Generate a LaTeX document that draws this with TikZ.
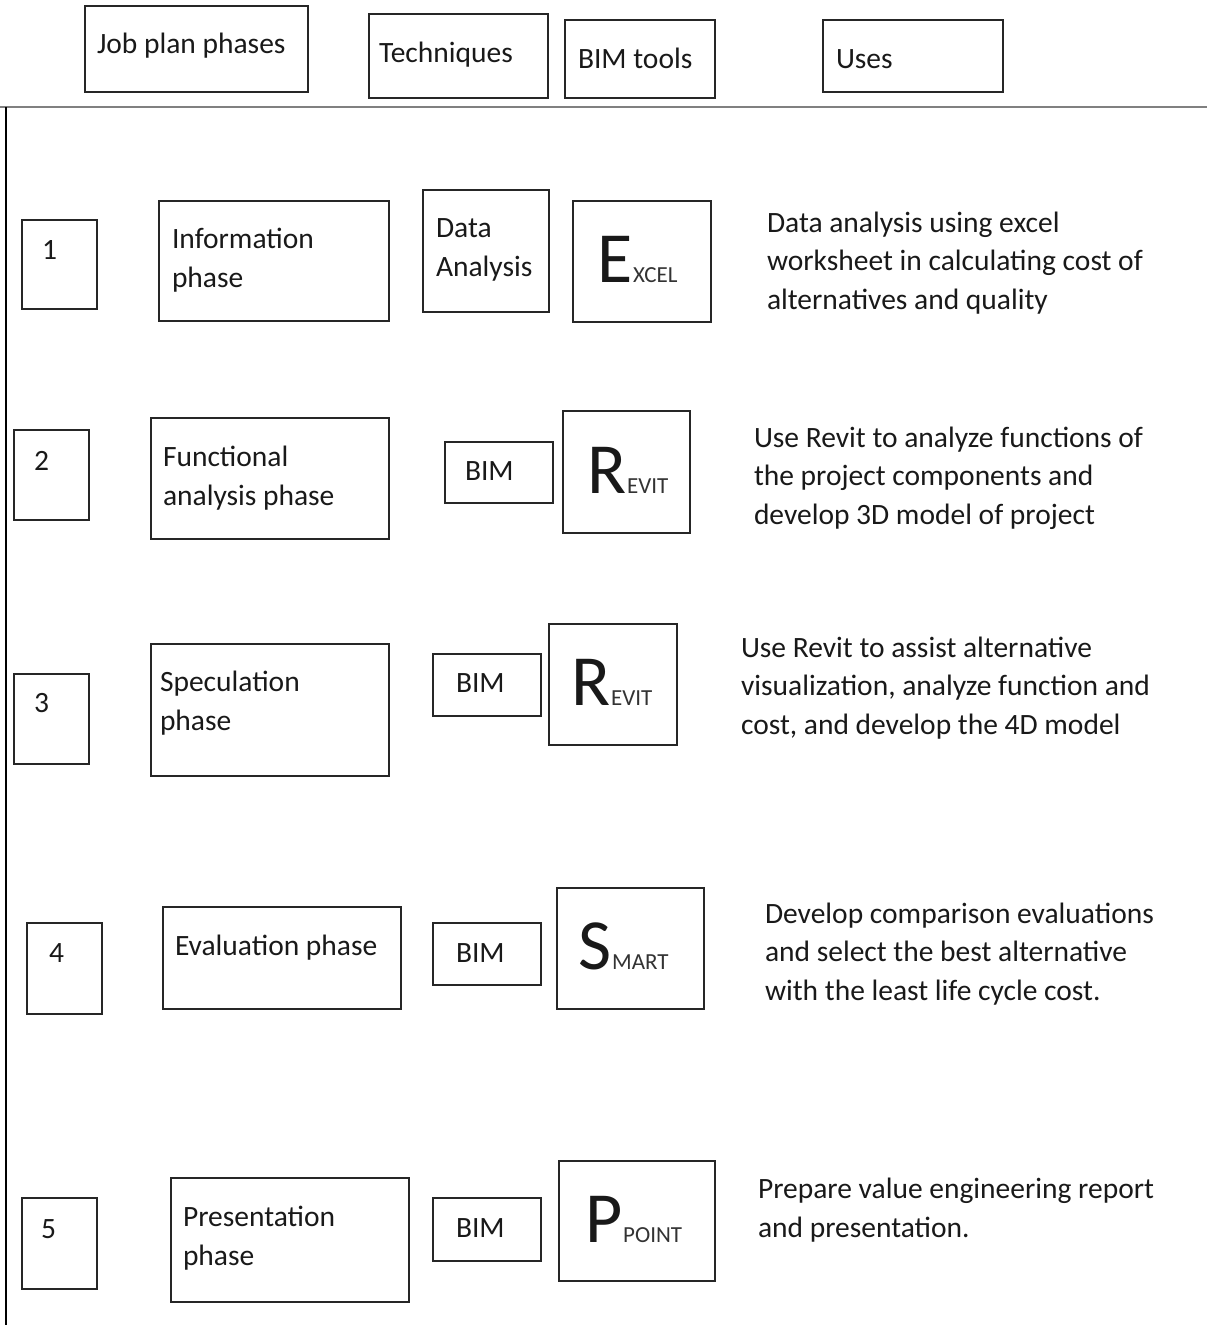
\documentclass[tikz,border=0pt]{standalone}
\usepackage{fontspec}
\setmainfont{Carlito}
\begin{document}
\begin{tikzpicture}[x=1pt,y=-1pt,
  box/.style={draw=black!85, line width=1.6pt, inner sep=0pt, outer sep=0pt},
  txt/.style={anchor=base west, inner sep=0pt, outer sep=0pt, font=\fontsize{29.5}{38.5}\selectfont, text=black!90},
  big/.style={anchor=base west, inner sep=0pt, outer sep=0pt, font=\fontsize{72}{72}\selectfont, text=black!90},
  small/.style={anchor=base west, inner sep=0pt, outer sep=0pt, xshift=1pt, font=\fontsize{23}{23}\selectfont, text=black!80}]
\useasboundingbox (0,0) rectangle (1207,1325);
% helper: box from (x1,y1) to (x2,y2)
\newcommand\mybox[5]{\node[box, anchor=north west, minimum width=#4-#2, minimum height=#5-#3] (#1) at (#2,#3) {};}
% header
\mybox{hjob}{85}{6}{308}{92}
\mybox{htech}{369}{14}{548}{98}
\mybox{hbim}{565}{20}{715}{98}
\mybox{huses}{823}{20}{1003}{92}
\node[txt] (thjob) at (97,53) {Job plan phases};
\node[txt] (thtech) at (379,62) {Techniques};
\node[txt] (thbim) at (578,68) {BIM tools};
\node[txt] (thuses) at (836,68) {Uses};
% frame
\coordinate (fl) at (0,107);
\coordinate (fr) at (1207,107);
\coordinate (vt) at (6,107);
\coordinate (vb) at (6,1325);
\draw[black!50, line width=2.6pt] (fl) -- (fr);
\draw[black, line width=1.6pt] (vt) -- (vb);
% row 1
\mybox{n1}{22}{220}{97}{309}
\node[txt] (t1) at (42,259) {1};
\mybox{p1}{159}{201}{389}{321}
\node[txt, align=left] (tp1) at (172,287) {Information\\phase};
\mybox{d1}{423}{190}{549}{312}
\node[txt, align=left] (td1) at (436,276) {Data\\Analysis};
\mybox{l1}{573}{201}{711}{322}
\node[big] (b1) at (597,282) {E};
\node[small] (s1) at (b1.base east) {XCEL};
\node[txt, align=left] (u1) at (767,309) {Data analysis using excel\\worksheet in calculating cost of\\alternatives and quality};
% row 2
\mybox{n2}{14}{430}{89}{520}
\node[txt] (t2) at (34,470) {2};
\mybox{p2}{151}{418}{389}{539}
\node[txt, align=left] (tp2) at (163,505) {Functional\\analysis phase};
\mybox{d2}{445}{442}{553}{503}
\node[txt] (td2) at (465,480) {BIM};
\mybox{l2}{563}{411}{690}{533}
\node[big] (b2) at (587,493) {R};
\node[small] (s2) at (b2.base east) {EVIT};
\node[txt, align=left] (u2) at (754,524) {Use Revit to analyze functions of\\the project components and\\develop 3D model of project};
% row 3
\mybox{n3}{14}{674}{89}{764}
\node[txt] (t3) at (34,712) {3};
\mybox{p3}{151}{644}{389}{776}
\node[txt, align=left] (tp3) at (160,730) {Speculation\\phase};
\mybox{d3}{433}{654}{541}{716}
\node[txt] (td3) at (456,692) {BIM};
\mybox{l3}{549}{624}{677}{745}
\node[big] (b3) at (571,705) {R};
\node[small] (s3) at (b3.base east) {EVIT};
\node[txt, align=left] (u3) at (741,734) {Use Revit to assist alternative\\visualization, analyze function and\\cost, and develop the 4D model};
% row 4
\mybox{n4}{27}{923}{102}{1014}
\node[txt] (t4) at (49,962) {4};
\mybox{p4}{163}{907}{401}{1009}
\node[txt] (tp4) at (175,955) {Evaluation phase};
\mybox{d4}{433}{923}{541}{985}
\node[txt] (td4) at (456,962) {BIM};
\mybox{l4}{557}{888}{704}{1009}
\node[big] (b4) at (578,969) {S};
\node[small] (s4) at (b4.base east) {MART};
\node[txt, align=left] (u4) at (765,1000) {Develop comparison evaluations\\and select the best alternative\\with the least life cycle cost.};
% row 5
\mybox{n5}{22}{1198}{97}{1289}
\node[txt] (t5) at (41,1238) {5};
\mybox{p5}{171}{1178}{409}{1302}
\node[txt, align=left] (tp5) at (183,1265) {Presentation\\phase};
\mybox{d5}{433}{1198}{541}{1261}
\node[txt] (td5) at (456,1237) {BIM};
\mybox{l5}{559}{1161}{715}{1281}
\node[big] (b5) at (585,1242) {P};
\node[small] (s5) at (b5.base east) {POINT};
\node[txt, align=left] (u5) at (758,1237) {Prepare value engineering report\\and presentation.};
\end{tikzpicture}
\end{document}
